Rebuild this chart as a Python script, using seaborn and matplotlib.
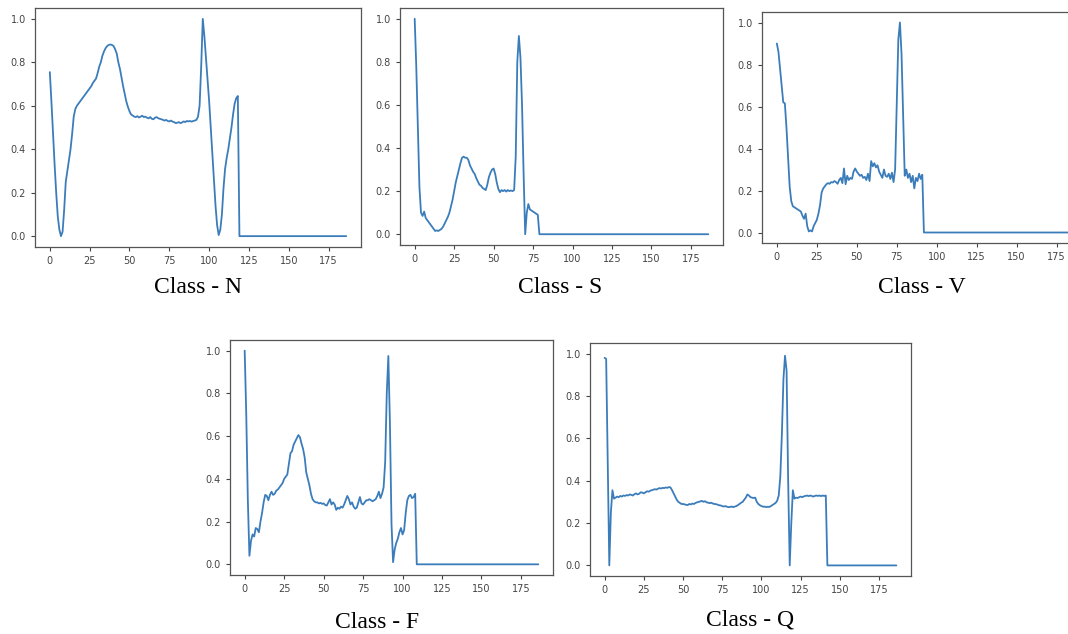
import numpy as np
import matplotlib
matplotlib.use("Agg")
import matplotlib.pyplot as plt
import seaborn as sns

# heartbeat samples (0..186); tails are zero padding
class_n = [0.755, 0.62, 0.47, 0.33, 0.20, 0.09, 0.03, 0.00, 0.02, 0.12,
           0.25, 0.30, 0.35, 0.40, 0.47, 0.55, 0.585, 0.60, 0.61, 0.62,
           0.63, 0.64, 0.65, 0.66, 0.67, 0.68, 0.69, 0.705, 0.715, 0.725,
           0.75, 0.78, 0.80, 0.83, 0.85, 0.865, 0.875, 0.88, 0.882, 0.88,
           0.875, 0.86, 0.84, 0.80, 0.77, 0.73, 0.69, 0.655, 0.62, 0.595,
           0.575, 0.56, 0.555, 0.55, 0.548, 0.552, 0.546, 0.55, 0.554, 0.548,
           0.55, 0.545, 0.542, 0.548, 0.54, 0.538, 0.545, 0.548, 0.543, 0.54,
           0.538, 0.535, 0.532, 0.535, 0.53, 0.528, 0.532, 0.527, 0.525, 0.52,
           0.522, 0.525, 0.52, 0.523, 0.528, 0.525, 0.53, 0.528, 0.53, 0.527,
           0.53, 0.532, 0.535, 0.55, 0.60, 0.78, 1.00, 0.92, 0.82, 0.72,
           0.62, 0.50, 0.38, 0.26, 0.14, 0.05, 0.005, 0.03, 0.10, 0.22,
           0.31, 0.36, 0.40, 0.45, 0.50, 0.56, 0.61, 0.635, 0.645] + [0.0] * 68

class_s = [1.00, 0.78, 0.50, 0.22, 0.10, 0.085, 0.105, 0.075, 0.065, 0.055,
           0.045, 0.035, 0.025, 0.015, 0.018, 0.015, 0.02, 0.025, 0.035, 0.05,
           0.065, 0.08, 0.10, 0.13, 0.16, 0.20, 0.24, 0.27, 0.30, 0.33,
           0.355, 0.36, 0.355, 0.355, 0.345, 0.32, 0.305, 0.29, 0.28, 0.26,
           0.245, 0.23, 0.225, 0.215, 0.21, 0.205, 0.23, 0.265, 0.285, 0.30,
           0.305, 0.28, 0.24, 0.21, 0.195, 0.205, 0.20, 0.205, 0.198, 0.205,
           0.20, 0.203, 0.20, 0.205, 0.36, 0.80, 0.92, 0.82, 0.60, 0.28,
           0.00, 0.10, 0.14, 0.115, 0.11, 0.105, 0.10, 0.095, 0.09] + [0.0] * 108

class_v = [0.90, 0.86, 0.78, 0.70, 0.62, 0.615, 0.50, 0.36, 0.22, 0.15,
           0.125, 0.12, 0.115, 0.11, 0.105, 0.10, 0.08, 0.065, 0.09, 0.03,
           0.005, 0.01, 0.005, 0.03, 0.045, 0.06, 0.09, 0.13, 0.19, 0.21,
           0.22, 0.23, 0.235, 0.232, 0.24, 0.238, 0.245, 0.24, 0.232, 0.25,
           0.26, 0.235, 0.305, 0.23, 0.27, 0.25, 0.26, 0.255, 0.29, 0.305,
           0.29, 0.28, 0.27, 0.275, 0.26, 0.265, 0.25, 0.28, 0.245, 0.34,
           0.315, 0.33, 0.31, 0.32, 0.29, 0.275, 0.26, 0.30, 0.27, 0.265,
           0.28, 0.255, 0.285, 0.24, 0.30, 0.62, 0.92, 1.00, 0.85, 0.55,
           0.27, 0.30, 0.26, 0.28, 0.24, 0.27, 0.21, 0.26, 0.245, 0.28,
           0.255, 0.275] + [0.0] * 95

class_f = [1.00, 0.70, 0.30, 0.04, 0.11, 0.14, 0.13, 0.17, 0.165, 0.15,
           0.20, 0.24, 0.29, 0.325, 0.32, 0.30, 0.325, 0.34, 0.325, 0.33,
           0.345, 0.35, 0.36, 0.37, 0.38, 0.40, 0.41, 0.42, 0.47, 0.52,
           0.53, 0.56, 0.575, 0.59, 0.605, 0.595, 0.565, 0.54, 0.50, 0.43,
           0.40, 0.37, 0.33, 0.305, 0.295, 0.29, 0.29, 0.285, 0.288, 0.283,
           0.285, 0.278, 0.275, 0.29, 0.305, 0.28, 0.29, 0.28, 0.255, 0.265,
           0.26, 0.27, 0.265, 0.28, 0.30, 0.32, 0.305, 0.28, 0.29, 0.27,
           0.26, 0.265, 0.29, 0.315, 0.285, 0.28, 0.29, 0.30, 0.30, 0.305,
           0.30, 0.295, 0.30, 0.305, 0.32, 0.34, 0.31, 0.33, 0.36, 0.48,
           0.80, 0.975, 0.66, 0.19, 0.01, 0.07, 0.10, 0.12, 0.15, 0.17,
           0.14, 0.16, 0.24, 0.30, 0.32, 0.325, 0.31, 0.315, 0.33] + [0.0] * 78

class_q = [0.98, 0.975, 0.50, 0.00, 0.25, 0.355, 0.315, 0.32, 0.325, 0.322,
           0.328, 0.325, 0.33, 0.328, 0.332, 0.33, 0.335, 0.333, 0.33, 0.336,
           0.34, 0.335, 0.338, 0.345, 0.344, 0.34, 0.345, 0.35, 0.348, 0.352,
           0.355, 0.357, 0.36, 0.358, 0.362, 0.365, 0.363, 0.366, 0.365, 0.368,
           0.366, 0.37, 0.368, 0.355, 0.34, 0.325, 0.31, 0.30, 0.295, 0.29,
           0.29, 0.288, 0.286, 0.285, 0.29, 0.288, 0.292, 0.29, 0.295, 0.298,
           0.30, 0.302, 0.305, 0.30, 0.303, 0.298, 0.296, 0.294, 0.296, 0.292,
           0.29, 0.289, 0.287, 0.284, 0.283, 0.28, 0.278, 0.28, 0.277, 0.275,
           0.276, 0.278, 0.275, 0.278, 0.28, 0.285, 0.29, 0.296, 0.30, 0.31,
           0.32, 0.335, 0.33, 0.322, 0.32, 0.318, 0.32, 0.30, 0.29, 0.284,
           0.28, 0.277, 0.278, 0.275, 0.277, 0.276, 0.28, 0.285, 0.29, 0.295,
           0.305, 0.33, 0.42, 0.62, 0.88, 0.99, 0.92, 0.40, 0.00, 0.20,
           0.355, 0.315, 0.32, 0.318, 0.322, 0.325, 0.322, 0.326, 0.328, 0.33,
           0.327, 0.33, 0.328, 0.325, 0.328, 0.33, 0.328, 0.33, 0.327, 0.33,
           0.328, 0.33] + [0.0] * 45

class_names = ["N", "S", "V", "F", "Q"]
signals = [class_n, class_s, class_v, class_f, class_q]
x_ticks = [0, 25, 50, 75, 100, 125, 150, 175]
y_ticks = [0.0, 0.2, 0.4, 0.6, 0.8, 1.0]

sns.set_style("ticks")
W, H = 1068, 634

# axes boxes in pixels: left, top, right, bottom
boxes = [(35, 8, 361, 247), (400, 8, 723, 245), (762, 12, 1089, 243),
         (230, 340, 553, 575), (590, 343, 911, 576)]
# caption centres in pixels
captions = [(198, 287), (560, 287), (922, 287), (377, 622), (750, 620)]

fig = plt.figure(figsize=(W / 100, H / 100), dpi=100)

for name, sig, box, cap in zip(class_names, signals, boxes, captions):
    l, t, r, b = box
    ax = fig.add_axes([l / W, 1 - b / H, (r - l) / W, (b - t) / H])
    sns.lineplot(x=np.arange(len(sig)), y=sig, ax=ax, color="#3b7dbb", linewidth=1.3)
    ax.set_xticks(x_ticks)
    ax.set_yticks(y_ticks)
    ax.set_xlim(-9.3, 195.3)
    ax.set_ylim(-0.05, 1.05)
    ax.tick_params(labelsize=7, colors="#444444", length=3, width=0.8)
    for sp in ax.spines.values():
        sp.set_color("#555555")
        sp.set_linewidth(0.9)
    fig.text(cap[0] / W, 1 - cap[1] / H, f"Class - {name}", ha="center", va="center",
             fontsize=17, family=["Liberation Serif", "DejaVu Serif"], color="black")

fig.savefig("out.png", dpi=100)
